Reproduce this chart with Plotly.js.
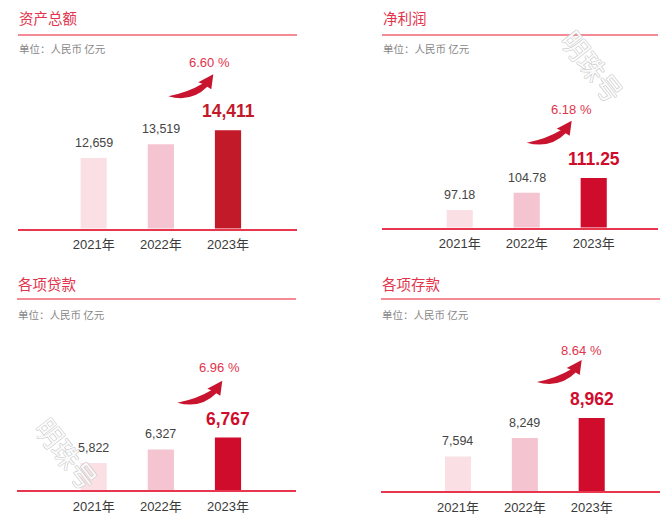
<!DOCTYPE html>
<html>
<head>
<meta charset="utf-8">
<script src="https://cdn.plot.ly/plotly-3.0.1.min.js"></script>
<style>html,body{margin:0;padding:0;background:#fff;}#chart{width:665px;height:521px;}</style>
</head>
<body>
<div id="chart"></div>
<script>
// ---- data ----
const years = ['2021年', '2022年', '2023年'];
const totalAssets = [12659, 13519, 14411];
const netProfit = [97.18, 104.78, 111.25];
const loans = [5822, 6327, 6767];
const deposits = [7594, 8249, 8962];
const growthRates = ['6.60 %', '6.18 %', '6.96 %', '8.64 %'];
const panelTitles = ['资产总额', '净利润', '各项贷款', '各项存款'];
const unitText = '单位：人民币 亿元';
const watermark = '明珠号';

// ---- layout (pixel geometry) ----
const W = 665, H = 521;
const px = x => x / W;
const py = y => 1 - y / H;

const panels = [
  {vals: totalAssets, dec: 0, x0: 18, x1: 297, c0: 93.7, step: 67.15, base: 228.5, ytop: 60, ymin: 8195, k: 0.015815,
   lineY: 35, titleY: 18, subY: 48, pct: [209, 62.3], tip: [213.3, 74.3], dark: '#c31a2a'},
  {vals: netProfit, dec: 2, x0: 382, x1: 658, c0: 459.7, step: 67, base: 227.5, ytop: 60, ymin: 89.54, k: 2.2826,
   lineY: 35, titleY: 18, subY: 48, pct: [571.7, 109.3], tip: [571.7, 120.7], dark: '#d00c2d'},
  {vals: loans, dec: 0, x0: 17, x1: 296, c0: 93.7, step: 67.15, base: 490, ytop: 325, ymin: 4815, k: 0.02684,
   lineY: 299, titleY: 283, subY: 314, pct: [219.3, 367.3], tip: [222.3, 380.7], dark: '#d00c2d'},
  {vals: deposits, dec: 0, x0: 381, x1: 660, c0: 458, step: 66.85, base: 491, ytop: 325, ymin: 6366, k: 0.028143,
   lineY: 299, titleY: 283, subY: 314, pct: [581, 350.7], tip: [581.7, 360], dark: '#d00c2d'}
];

const fmt = (v, d) => v.toLocaleString('en-US', {minimumFractionDigits: d, maximumFractionDigits: d});

const traces = [];
const annotations = [];
const shapes = [];
const layout = {
  width: W, height: H,
  margin: {l: 0, r: 0, t: 0, b: 0},
  paper_bgcolor: '#ffffff', plot_bgcolor: 'rgba(0,0,0,0)',
  showlegend: false,
  bargap: 0.61,
  font: {family: 'Arial, "Liberation Sans", "Noto Sans CJK SC", sans-serif', color: '#333'}
};

// arrow outline, pixel offsets from arrow tip
const arrowPts = [
  ['M', -45, 22], ['Q', -25, 18, -11, 9.5], ['L', -15, 8], ['L', 0, 0], ['L', -2, 15], ['L', -6, 12.5],
  ['Q', -22, 28.5, -45, 22]
];

panels.forEach((p, i) => {
  const n = i === 0 ? '' : String(i + 1);
  const xa = 'x' + n, ya = 'y' + n;
  const rl = -(p.c0 - p.x0) / p.step;
  const rr = 2 + (p.x1 - (p.c0 + 2 * p.step)) / p.step;
  layout['xaxis' + n] = {
    domain: [px(p.x0), px(p.x1)], range: [rl, rr], type: 'category', anchor: ya,
    showgrid: false, zeroline: false, ticks: '', showline: true, linecolor: '#e8364e', linewidth: 2,
    tickfont: {size: 13, color: '#3a3a3a'}, fixedrange: true, ticklabelstandoff: 3
  };
  layout['yaxis' + n] = {
    domain: [py(p.base), py(p.ytop)], range: [p.ymin, p.ymin + (p.base - p.ytop) / p.k],
    visible: false, anchor: xa, fixedrange: true
  };
  traces.push({
    type: 'bar', x: years, y: p.vals, xaxis: xa, yaxis: ya, width: 0.39,
    marker: {color: ['#fae0e5', '#f4c4d1', p.dark], line: {width: 0}},
    hoverinfo: 'skip'
  });
  p.vals.forEach((v, j) => {
    const last = j === 2;
    annotations.push({
      xref: xa, yref: ya, x: years[j], y: v, text: fmt(v, p.dec), showarrow: false,
      yanchor: 'middle', xanchor: 'center', yshift: last ? 19 : 15,
      font: last ? {size: 17.5, color: p.dark, weight: 700} : {size: 12.5, color: '#444'}
    });
  });
  // title & unit
  annotations.push({xref: 'paper', yref: 'paper', x: px(p.x0 - 1), y: py(p.titleY), xanchor: 'left', yanchor: 'middle',
    text: panelTitles[i], showarrow: false, font: {family: '"Noto Sans CJK SC", sans-serif', size: 14.5, color: '#e2344c'}});
  annotations.push({xref: 'paper', yref: 'paper', x: px(p.x0 - 1), y: py(p.subY), xanchor: 'left', yanchor: 'middle',
    text: unitText, showarrow: false, font: {family: '"Noto Sans CJK SC", sans-serif', size: 10.5, color: '#888'}});
  // growth rate
  annotations.push({xref: 'paper', yref: 'paper', x: px(p.pct[0]), y: py(p.pct[1]), xanchor: 'center', yanchor: 'middle',
    text: growthRates[i], showarrow: false, font: {size: 13, color: '#e0344c'}});
  // header line
  shapes.push({type: 'line', xref: 'paper', yref: 'paper', x0: px(p.x0), x1: px(p.x1), y0: py(p.lineY), y1: py(p.lineY),
    line: {color: '#f26473', width: 1.5}});
  // arrow
  const path = arrowPts.map(seg => {
    const cmd = seg[0];
    const nums = [];
    for (let q = 1; q < seg.length; q += 2) {
      nums.push(px(p.tip[0] + seg[q]).toFixed(5) + ',' + py(p.tip[1] + seg[q + 1]).toFixed(5));
    }
    return cmd + nums.join(' ');
  }).join(' ') + ' Z';
  shapes.push({type: 'path', xref: 'paper', yref: 'paper', path: path, fillcolor: '#c8142e', line: {width: 0}});
});

// watermarks
[[592, 66], [67, 453]].forEach(c => {
  annotations.push({xref: 'paper', yref: 'paper', x: px(c[0]), y: py(c[1]), text: watermark, showarrow: false,
    textangle: 52, xanchor: 'center', yanchor: 'middle',
    font: {family: '"Noto Sans CJK SC", sans-serif', size: 27, color: 'rgba(255,255,255,0.95)',
      shadow: '0.6px 0 #c6c6c6, -0.6px 0 #c6c6c6, 0 0.6px #c6c6c6, 0 -0.6px #c6c6c6'}});
});

layout.annotations = annotations;
layout.shapes = shapes;

Plotly.newPlot('chart', traces, layout, {displayModeBar: false, staticPlot: true});
</script>
</body>
</html>
